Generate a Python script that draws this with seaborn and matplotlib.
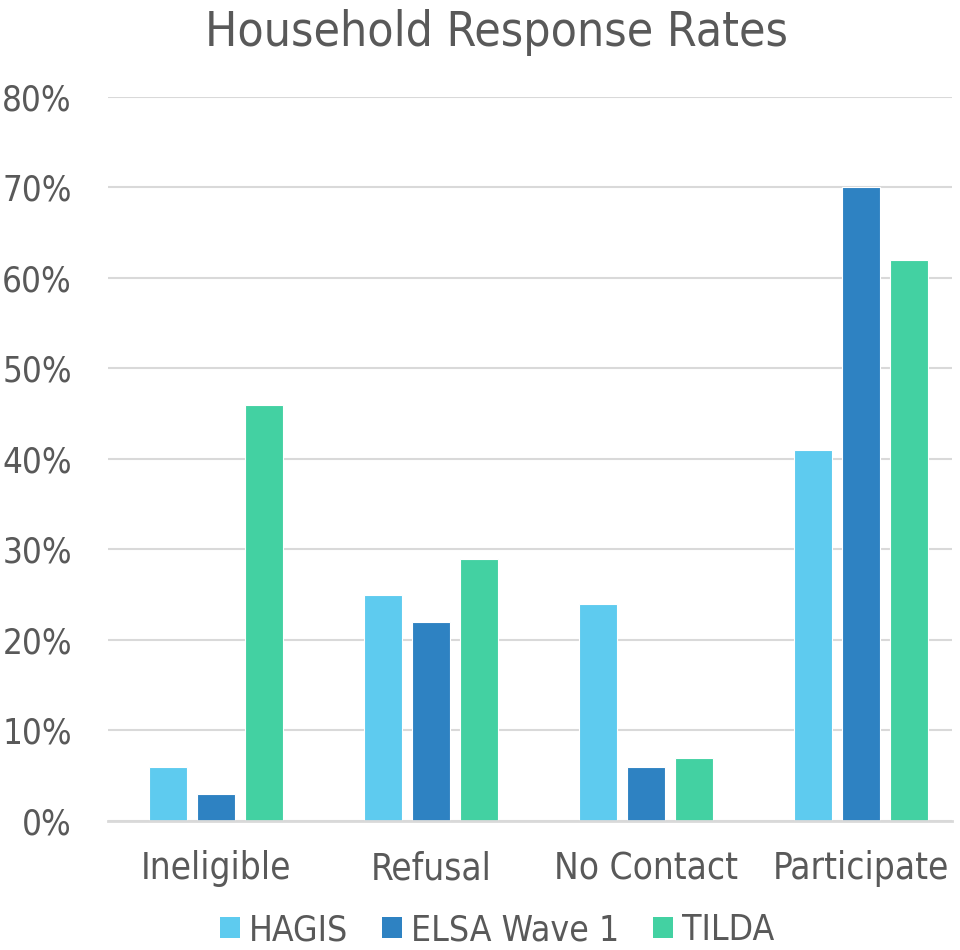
import matplotlib
matplotlib.use("Agg")
import matplotlib.pyplot as plt
import seaborn as sns
import pandas as pd
from matplotlib.ticker import PercentFormatter, MultipleLocator
from matplotlib.patches import Patch

categories = ["Ineligible", "Refusal", "No Contact", "Participate"]
series = ["HAGIS", "ELSA Wave 1", "TILDA"]
hagis = [0.06, 0.25, 0.24, 0.41]
elsa = [0.03, 0.22, 0.06, 0.70]
tilda = [0.46, 0.29, 0.07, 0.62]
colors = ["#5ECBEF", "#2E82C2", "#43D1A2"]

rows = []
for name, vals in zip(series, [hagis, elsa, tilda]):
    for c, v in zip(categories, vals):
        rows.append({"category": c, "series": name, "value": v})
df = pd.DataFrame(rows)

sns.set_theme(style="white")
plt.rcParams["font.family"] = ["DejaVu Sans"]
plt.rcParams["font.stretch"] = "condensed"
txt = "#595959"

fig = plt.figure(figsize=(9.6, 9.5), dpi=100)
ax = fig.add_axes([0.1125, 0.1358, 0.8792, 0.7621])
sns.barplot(data=df, x="category", y="value", hue="series", order=categories,
            hue_order=series, palette=colors, saturation=1, width=0.67, gap=0.2,
            edgecolor="white", linewidth=0.8, ax=ax, legend=False)

ax.set_ylim(0, 0.8)
ax.set_xlim(-0.502, 3.423)
ax.yaxis.set_major_locator(MultipleLocator(0.1))
ax.yaxis.set_major_formatter(PercentFormatter(1.0, decimals=0))
ax.grid(axis="y", color="#D9D9D9", linewidth=1.5)
ax.set_axisbelow(True)
for s in ["top", "right", "left"]:
    ax.spines[s].set_visible(False)
ax.spines["bottom"].set_color("#D9D9D9")
ax.spines["bottom"].set_linewidth(2)
ax.tick_params(axis="x", length=0, labelsize=26.5, colors=txt, pad=21)
ax.tick_params(axis="y", length=0, labelsize=25, colors=txt, pad=26)
ax.set_xlabel("")
ax.set_ylabel("")

fig.suptitle("Household Response Rates", x=0.517, y=0.99, fontsize=34.5, color=txt)

handles = [Patch(facecolor=c, edgecolor="none") for c in colors]
fig.legend(handles, series, loc="center", bbox_to_anchor=(0.518, 0.021),
           ncol=3, frameon=False, fontsize=25.5, labelcolor=txt,
           handlelength=0.57, handleheight=0.57, handletextpad=0.25,
           columnspacing=0.95)

fig.savefig("out.png", dpi=100)
